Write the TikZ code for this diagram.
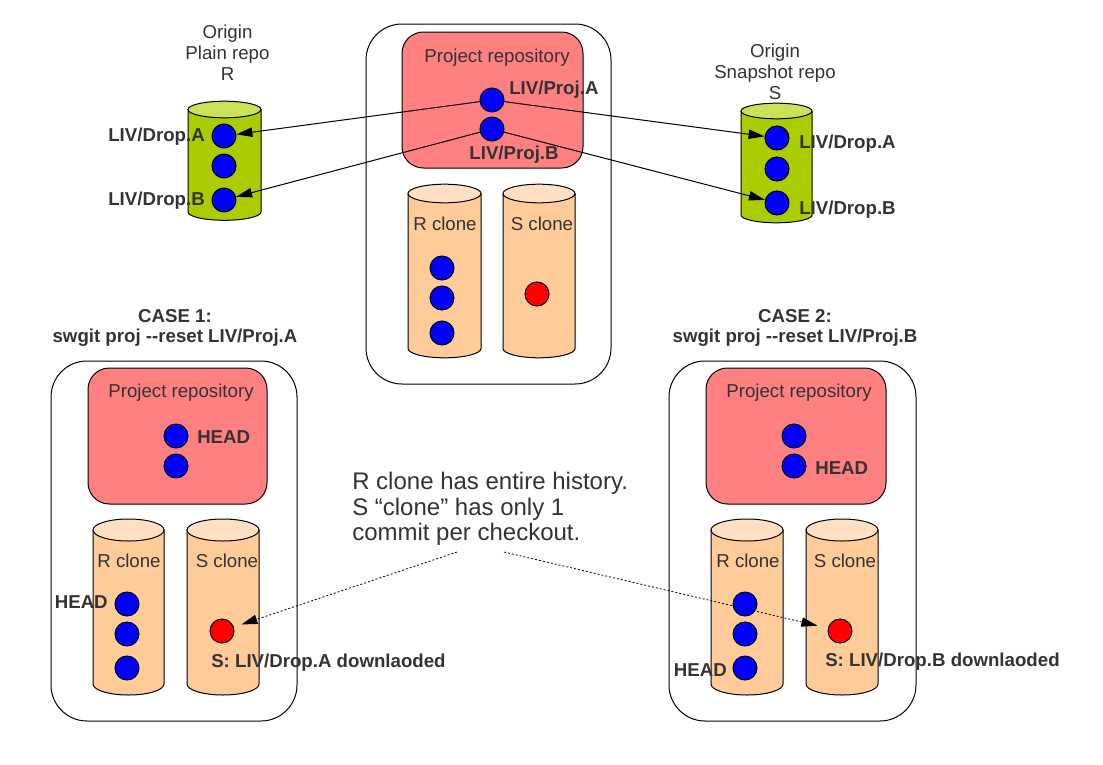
\documentclass[tikz,border=0pt]{standalone}
\usepackage{fontspec}
\setmainfont{Liberation Sans}
\usetikzlibrary{arrows.meta}
\definecolor{txt}{HTML}{333333}
\definecolor{repored}{HTML}{FF8080}
\definecolor{clonebody}{HTML}{FFCC99}
\definecolor{clonetop}{HTML}{FFE0C2}
\definecolor{greenbody}{HTML}{AACC00}
\definecolor{greentop}{HTML}{CCE155}
% #1 left x, #2 right x, #3 top centre y, #4 bottom centre y, #5 ry, #6 body, #7 top
\newcommand{\drawcyl}[7]{%
  \pgfmathsetmacro{\cylcx}{(#1+#2)/2}%
  \pgfmathsetmacro{\cylrx}{(#2-#1)/2}%
  \draw[line width=0.75pt, fill=#6] (#1,#3) -- (#1,#4)
     arc[start angle=180, end angle=0, x radius=\cylrx, y radius=#5] -- (#2,#3) -- cycle;
  \draw[line width=0.75pt, fill=#7] (\cylcx,#3) ellipse[x radius=\cylrx, y radius=#5];
}
\begin{document}
\begin{tikzpicture}[x=0.75pt,y=-0.75pt,
  lbl/.style={text=txt, font=\fontsize{14}{15.6}\selectfont, inner sep=0pt},
  blbl/.style={text=txt, font=\fontsize{14}{15}\selectfont\bfseries, inner sep=0pt},
  dot/.style={circle, draw, line width=0.75pt, fill=blue, minimum size=18pt, inner sep=0pt},
  rdot/.style={dot, fill=red},
  link/.style={-{Triangle[length=12pt,width=7pt]}, line width=0.75pt},
  notearrow/.style={-{Triangle[length=12pt,width=7pt]}, line width=0.6pt, dash pattern=on 1.5pt off 1.5pt},
  outerbox/.style={draw, fill=white, line width=0.75pt, rounded corners=27pt},
  repobox/.style={draw, fill=repored, line width=0.75pt, rounded corners=16pt}]
\fill[white] (0,0) rectangle (1103,764);
\useasboundingbox (0,0) rectangle (1103,764);

% ---------- top centre: project ----------
\draw[outerbox] (366,24) rectangle (611,384);
\draw[repobox] (402,32) rectangle (583,168);
\node[lbl, anchor=base] (tpr) at (497,62) {Project repository};
\node[dot] (pA) at (492,100) {};
\node[dot] (pB) at (492,129) {};
\node[blbl, anchor=base west] (pAl) at (509,94) {LIV/Proj.A};
\node[blbl, anchor=base] (pBl) at (514,159) {LIV/Proj.B};

\drawcyl{408}{481}{193.5}{348.5}{9.3}{clonebody}{clonetop}
\drawcyl{503}{575}{193.5}{348.5}{9.3}{clonebody}{clonetop}
\node[lbl, anchor=base] (trc) at (445,230) {R clone};
\node[lbl, anchor=base] (tsc) at (542,230) {S clone};
\node[dot] (tr1) at (442,268) {};
\node[dot] (tr2) at (442,298) {};
\node[dot] (tr3) at (442,333) {};
\node[rdot] (ts1) at (537,294) {};

% ---------- left origin: plain repo ----------
\node[lbl, align=center, anchor=north] (orgR) at (227.5,25) {Origin\\Plain repo\\R};
\drawcyl{188}{261}{109.5}{212}{8.3}{greenbody}{greentop}
\node[dot] (lA) at (224,136) {};
\node[dot] (lM) at (224,166) {};
\node[dot] (lB) at (224,200) {};
\node[blbl, anchor=base east] (lAl) at (205,141.5) {LIV/Drop.A};
\node[blbl, anchor=base east] (lBl) at (205,205) {LIV/Drop.B};

% ---------- right origin: snapshot repo ----------
\node[lbl, align=center, anchor=north] (orgS) at (775,44) {Origin\\Snapshot repo\\S};
\drawcyl{741}{812}{111}{215}{7.8}{greenbody}{greentop}
\node[dot] (rA) at (777,138) {};
\node[dot] (rM) at (777,169) {};
\node[dot] (rB) at (777,203) {};
\node[blbl, anchor=base west] (rAl) at (799,148) {LIV/Drop.A};
\node[blbl, anchor=base west] (rBl) at (799,214) {LIV/Drop.B};

\draw[link] (pA) -- (lA);
\draw[link] (pB) -- (lB);
\draw[link] (pA) -- (rA);
\draw[link] (pB) -- (rB);

% ---------- case 1 ----------
\node[blbl, align=center, anchor=north] (case1) at (175,309) {CASE 1:\\swgit proj -{}-reset LIV/Proj.A};
\draw[outerbox] (51,361) rectangle (297,721);
\draw[repobox] (88,368) rectangle (267,504);
\node[lbl, anchor=base] (c1pr) at (181,397) {Project repository};
\node[dot] (c1p1) at (176,436) {};
\node[dot] (c1p2) at (176,466) {};
\node[blbl, anchor=base west] (c1ph) at (197,443) {HEAD};
\drawcyl{93}{164}{530}{684}{11}{clonebody}{clonetop}
\drawcyl{187}{259}{530}{684}{11}{clonebody}{clonetop}
\node[lbl, anchor=base] (c1rc) at (129,567) {R clone};
\node[lbl, anchor=base] (c1sc) at (227,567) {S clone};
\node[dot] (c1r1) at (127,604) {};
\node[dot] (c1r2) at (127,634) {};
\node[dot] (c1r3) at (127,668) {};
\node[blbl, anchor=base east] (c1rh) at (108,608) {HEAD};
\node[rdot] (c1s) at (222,631) {};
\node[blbl, anchor=base west] (c1sl) at (211,667) {S: LIV/Drop.A downlaoded};

% ---------- case 2 ----------
\node[blbl, align=center, anchor=north] (case2) at (795,309) {CASE 2:\\swgit proj -{}-reset LIV/Proj.B};
\draw[outerbox] (669,361) rectangle (916,721);
\draw[repobox] (706,368) rectangle (886,504);
\node[lbl, anchor=base] (c2pr) at (799,397) {Project repository};
\node[dot] (c2p1) at (794,436) {};
\node[dot] (c2p2) at (794,466) {};
\node[blbl, anchor=base west] (c2ph) at (815,474) {HEAD};
\drawcyl{711}{783}{530}{684}{11}{clonebody}{clonetop}
\drawcyl{806}{878}{530}{684}{11}{clonebody}{clonetop}
\node[lbl, anchor=base] (c2rc) at (748,567) {R clone};
\node[lbl, anchor=base] (c2sc) at (845,567) {S clone};
\node[dot] (c2r1) at (745,604) {};
\node[dot] (c2r2) at (745,634) {};
\node[dot] (c2r3) at (745,668) {};
\node[blbl, anchor=base east] (c2rh) at (727,676) {HEAD};
\node[rdot] (c2s) at (840,631) {};
\node[blbl, anchor=base west] (c2sl) at (825,666) {S: LIV/Drop.B downlaoded};

% ---------- comment ----------
\node[text=txt, font=\fontsize{18}{19.2}\selectfont, inner sep=0pt, align=left, anchor=north west] (note) at (352,472)
  {R clone has entire history.\\S “clone” has only 1\\commit per checkout.};
\coordinate (n1) at (457,552);
\coordinate (n2) at (504,552);
\draw[notearrow, shorten >=6pt] (n1) -- (c1s);
\draw[notearrow, shorten >=8pt] (n2) -- (c2s);
\end{tikzpicture}
\end{document}
